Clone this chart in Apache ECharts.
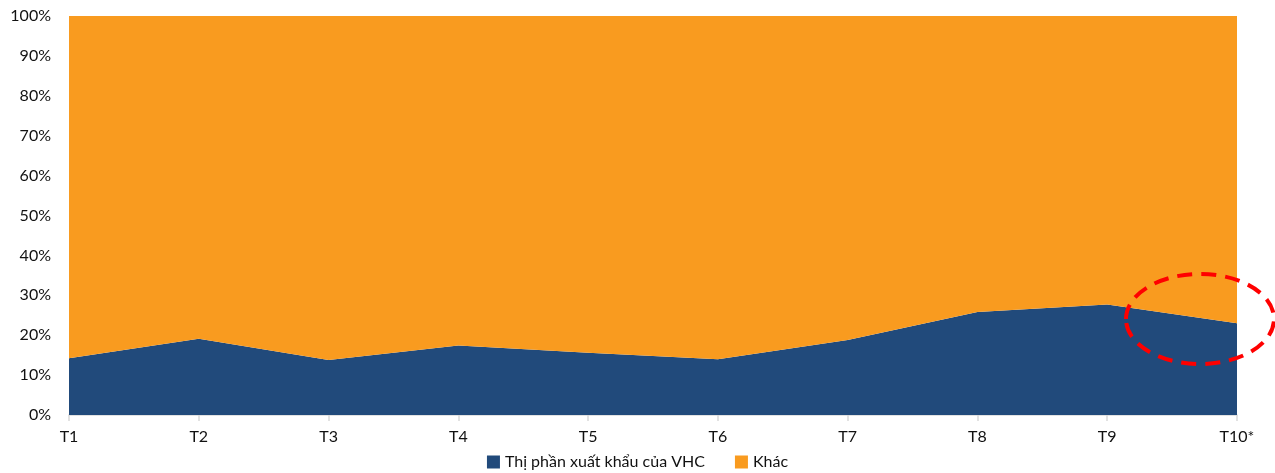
<!DOCTYPE html>
<html>
<head>
<meta charset="utf-8">
<script src="https://cdn.jsdelivr.net/npm/echarts@6/dist/echarts.min.js"></script>
<style>
  html, body { margin: 0; padding: 0; background: #fff; }
  #chart { width: 1275px; height: 473px; }
</style>
</head>
<body>
<div id="chart"></div>
<script>
// Months of the year (T10 is provisional)
const months = ['T1', 'T2', 'T3', 'T4', 'T5', 'T6', 'T7', 'T8', 'T9', 'T10*'];
// VHC share of export value, percent
const vhcShare = [14.2, 19.1, 13.8, 17.4, 15.6, 14.0, 18.8, 25.8, 27.7, 23.0];
// Remaining exporters
const otherShare = vhcShare.map(v => +(100 - v).toFixed(1));
const yTicks = [0, 10, 20, 30, 40, 50, 60, 70, 80, 90, 100];

const FONT = 'Lato, "Open Sans", sans-serif';
const chart = echarts.init(document.getElementById('chart'), null, { renderer: 'canvas' });

chart.setOption({
  animation: false,
  textStyle: { fontFamily: FONT },
  grid: { left: 69, right: 38, top: 16, bottom: 58 },
  legend: {
    bottom: -2,
    itemWidth: 13,
    itemHeight: 13,
    itemGap: 30,
    icon: 'rect',
    textStyle: { fontSize: 16, color: '#111', fontFamily: FONT },
    data: ['Thị phần xuất khẩu của VHC', 'Khác']
  },
  xAxis: {
    type: 'category',
    data: months,
    boundaryGap: false,
    axisLine: { lineStyle: { color: '#d9d9d9', width: 1.5 } },
    axisTick: { show: true, length: 6, lineStyle: { color: '#d9d9d9', width: 1.5 } },
    axisLabel: { color: '#111', fontSize: 16, margin: 14, fontFamily: FONT }
  },
  yAxis: {
    type: 'value',
    min: yTicks[0],
    max: yTicks[yTicks.length - 1],
    interval: 10,
    axisLine: { show: false },
    axisTick: { show: false },
    splitLine: { show: false },
    axisLabel: { color: '#111', fontSize: 16, margin: 18, formatter: v => v + '%', fontFamily: FONT }
  },
  series: [
    {
      name: 'Thị phần xuất khẩu của VHC',
      type: 'line',
      stack: 'share',
      data: vhcShare,
      symbol: 'none',
      lineStyle: { width: 0 },
      areaStyle: { color: '#214A7B', opacity: 1 },
      itemStyle: { color: '#214A7B' }
    },
    {
      name: 'Khác',
      type: 'line',
      stack: 'share',
      data: otherShare,
      symbol: 'none',
      lineStyle: { width: 0 },
      areaStyle: { color: '#F99B1F', opacity: 1 },
      itemStyle: { color: '#F99B1F' }
    }
  ],
  graphic: [
    {
      type: 'ellipse',
      shape: { cx: 1200, cy: 319, rx: 74, ry: 45 },
      style: { fill: 'none', stroke: '#FF0000', lineWidth: 4, lineDash: [15, 9] },
      z: 100
    }
  ]
});
</script>
</body>
</html>
